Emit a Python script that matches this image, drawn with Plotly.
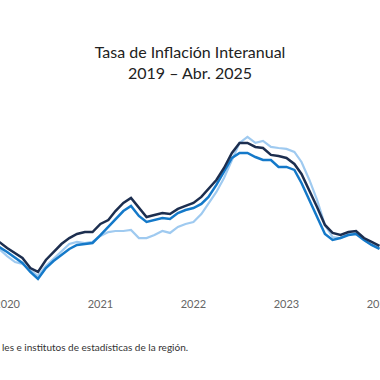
import plotly.graph_objects as go

months = ["2019-11-01", "2019-12-01",
          "2020-01-01", "2020-02-01", "2020-03-01", "2020-04-01", "2020-05-01", "2020-06-01",
          "2020-07-01", "2020-08-01", "2020-09-01", "2020-10-01", "2020-11-01", "2020-12-01",
          "2021-01-01", "2021-02-01", "2021-03-01", "2021-04-01", "2021-05-01", "2021-06-01",
          "2021-07-01", "2021-08-01", "2021-09-01", "2021-10-01", "2021-11-01", "2021-12-01",
          "2022-01-01", "2022-02-01", "2022-03-01", "2022-04-01", "2022-05-01", "2022-06-01",
          "2022-07-01", "2022-08-01", "2022-09-01", "2022-10-01", "2022-11-01", "2022-12-01",
          "2023-01-01", "2023-02-01", "2023-03-01", "2023-04-01", "2023-05-01", "2023-06-01",
          "2023-07-01", "2023-08-01", "2023-09-01", "2023-10-01", "2023-11-01", "2023-12-01",
          "2024-01-01"]

serie_oscura = [3.80, 3.87,
                3.47, 3.13, 2.80, 2.13, 1.87, 2.67, 3.20, 3.73, 4.13, 4.40, 4.53, 4.53,
                5.07, 5.33, 5.93, 6.47, 6.80, 6.13, 5.53, 5.67, 5.80, 5.73, 6.07, 6.27,
                6.47, 6.87, 7.40, 8.00, 8.80, 9.80, 10.47, 10.47, 10.20, 10.13, 9.67, 9.60,
                9.47, 9.07, 8.40, 7.33, 6.20, 5.00, 4.47, 4.33, 4.53, 4.60, 4.13, 3.87,
                3.60]

serie_media = [3.53, 3.53,
               3.20, 2.80, 2.47, 1.87, 1.40, 2.13, 2.60, 3.00, 3.40, 3.67, 3.73, 3.80,
               4.33, 4.87, 5.40, 5.93, 6.27, 5.60, 5.20, 5.33, 5.47, 5.40, 5.80, 6.00,
               6.13, 6.40, 6.87, 7.67, 8.53, 9.47, 9.80, 9.80, 9.53, 9.33, 9.33, 8.87,
               8.87, 8.67, 7.80, 6.67, 5.47, 4.40, 4.00, 4.13, 4.33, 4.40, 4.00, 3.67,
               3.40]

serie_clara = [3.40, 3.40,
               2.93, 2.53, 2.40, 2.00, 1.60, 2.27, 2.73, 3.20, 3.73, 3.87, 3.80, 3.87,
               4.27, 4.53, 4.60, 4.60, 4.67, 4.13, 4.13, 4.33, 4.60, 4.47, 4.87, 5.07,
               5.20, 5.73, 6.47, 7.20, 8.13, 9.33, 10.47, 10.87, 10.47, 10.60, 10.20, 10.13,
               10.07, 9.87, 9.20, 8.00, 6.67, 5.00, 4.20, 4.13, 4.40, 4.47, 4.00, 3.67,
               3.47]

tick_vals = ["2020-01-01", "2021-01-01", "2022-01-01", "2023-01-01", "2024-01-01"]
tick_text = ["2020", "2021", "2022", "2023", "2024"]

fig = go.Figure()
fig.add_trace(go.Scatter(x=months, y=serie_clara, mode="lines",
                         line=dict(color="#9fcaf0", width=2.2), showlegend=False))
fig.add_trace(go.Scatter(x=months, y=serie_media, mode="lines",
                         line=dict(color="#1479c9", width=2.5), showlegend=False))
fig.add_trace(go.Scatter(x=months, y=serie_oscura, mode="lines",
                         line=dict(color="#1c2e4f", width=2.5), showlegend=False))

fig.update_layout(
    width=380, height=380,
    margin=dict(l=0, r=0, t=100, b=90, autoexpand=False),
    plot_bgcolor="white", paper_bgcolor="white",
    title=dict(text="Tasa de Inflación Interanual<br>2019 – Abr. 2025",
               x=0.5, xanchor="center", y=0.847, yanchor="middle",
               font=dict(family="Lato", size=16, color="#222222")),
    xaxis=dict(range=["2019-12-04", "2024-01-03"], tickvals=tick_vals, ticktext=tick_text,
               automargin=False, showgrid=False, zeroline=False, showline=False, ticks="",
               ticklabeloverflow="allow", ticklabelstandoff=6,
               tickfont=dict(family="Lato", size=11, color="#666666")),
    yaxis=dict(range=[0.667, 13.33], visible=False, showgrid=False, automargin=False),
    annotations=[dict(text="les e institutos de estadísticas de la región.",
                      xref="paper", yref="paper", x=0, y=-0.302,
                      xanchor="left", yanchor="middle", showarrow=False,
                      font=dict(family="Lato", size=10, color="#333333"))],
)

fig.write_html("out.html", config={"displayModeBar": False},
               post_script="document.body.style.margin='0px';")
